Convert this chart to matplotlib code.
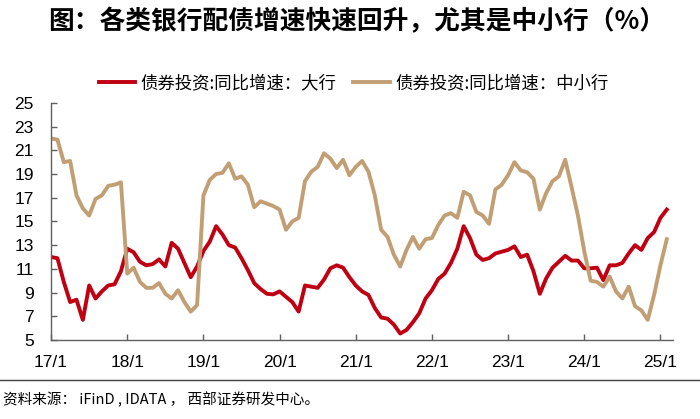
import numpy as np
import matplotlib
matplotlib.use("Agg")
import matplotlib.pyplot as plt
from matplotlib.lines import Line2D

plt.rcParams["font.family"] = ["Noto Sans CJK SC", "DejaVu Sans"]

# 月度数据 2017/1 - 2025/2
big_banks = [
    12.0, 11.9, 9.9, 8.2, 8.4, 6.7, 9.6, 8.5, 9.1, 9.6, 9.7, 10.8,
    12.7, 12.4, 11.6, 11.3, 11.4, 11.8, 11.2, 13.2, 12.7, 11.5, 10.3, 11.2,
    12.5, 13.3, 14.6, 13.9, 13.0, 12.8, 11.9, 10.9, 9.8, 9.3, 8.9, 8.85,
    9.1, 8.65, 8.2, 7.4, 9.6, 9.5, 9.4, 10.1, 11.05, 11.3, 11.1, 10.3,
    9.6, 9.1, 8.8, 7.7, 6.9, 6.8, 6.3, 5.55, 5.85, 6.5, 7.25, 8.5,
    9.2, 10.15, 10.6, 11.5, 12.7, 14.6, 13.6, 12.2, 11.75, 11.9, 12.3, 12.45,
    12.6, 12.9, 12.0, 12.2, 10.8, 8.9, 10.2, 11.1, 11.6, 12.1, 11.7, 11.7,
    11.05, 11.05, 11.1, 10.05, 11.3, 11.3, 11.5, 12.3, 13.0, 12.6, 13.6, 14.1,
    15.3, 16.0,
]
small_banks = [
    22.0, 21.9, 20.0, 20.1, 17.2, 16.1, 15.5, 16.9, 17.2, 18.0, 18.1, 18.3,
    10.6, 11.1, 9.9, 9.4, 9.4, 9.8, 8.9, 8.5, 9.2, 8.2, 7.4, 7.95,
    17.2, 18.5, 19.0, 19.1, 19.9, 18.6, 18.8, 18.1, 16.2, 16.7, 16.5, 16.3,
    16.0, 14.3, 15.0, 15.3, 18.4, 19.2, 19.6, 20.75, 20.3, 19.5, 20.2, 18.9,
    19.6, 20.1, 19.2, 17.2, 14.3, 13.7, 12.2, 11.2, 12.6, 13.7, 12.7, 13.5,
    13.6, 14.7, 15.5, 15.7, 15.3, 17.5, 17.2, 15.8, 15.5, 14.8, 17.7, 18.1,
    18.9, 20.0, 19.3, 19.15, 18.6, 16.0, 17.4, 18.4, 18.8, 20.2, 17.9, 15.5,
    12.5, 10.0, 9.9, 9.5, 10.35, 9.1, 8.5, 9.5, 7.85, 7.5, 6.7, 8.8,
    11.3, 13.5,
]
tick_labels = ["17/1", "18/1", "19/1", "20/1", "21/1", "22/1", "23/1", "24/1", "25/1"]
labels = ["债券投资:同比增速：大行", "债券投资:同比增速：中小行"]

x = np.arange(len(big_banks))

fig = plt.figure(figsize=(7, 4.19), dpi=100)
ax = fig.add_axes([0.073, 0.1885, 0.8886, 0.566])

ax.plot(x, big_banks, color="#C00012", lw=2.8, solid_joinstyle="round", label=labels[0])
ax.plot(x, small_banks, color="#C29E74", lw=2.8, solid_joinstyle="round", label=labels[1])

ax.set_xlim(0, 98)
ax.set_ylim(5, 25)
ax.set_yticks(range(5, 26, 2))
ax.set_xticks(range(0, 97, 12))
ax.set_xticklabels(tick_labels)

for s in ["top", "right"]:
    ax.spines[s].set_visible(False)
for s in ["left", "bottom"]:
    ax.spines[s].set_color("#606060")
    ax.spines[s].set_linewidth(1.0)
ax.tick_params(direction="in", length=4, width=1, color="#606060", labelsize=12.5)
ax.tick_params(axis="x", pad=11)
ax.tick_params(axis="y", pad=12.5)
for lab in ax.get_xticklabels() + ax.get_yticklabels():
    lab.set_family(["Liberation Sans", "DejaVu Sans"])

fig.legend(loc="center", bbox_to_anchor=(0.505, 0.802), ncol=2, frameon=False,
           fontsize=12.5, handlelength=2.1, handletextpad=0.3, columnspacing=1.0)

fig.text(0.509, 1 - 22 / 419, "图：各类银行配债增速快速回升，尤其是中小行（%）",
         ha="center", va="center", fontsize=18.5, fontweight="bold")

fig.add_artist(Line2D([0, 1], [1 - 380 / 419] * 2, transform=fig.transFigure,
                      color="#404040", lw=1))
fig.text(3 / 700, 1 - 400 / 419, "资料来源： iFinD , IDATA ， 西部证券研发中心。",
         ha="left", va="center", fontsize=10.5)

fig.savefig("out.png", dpi=100)
